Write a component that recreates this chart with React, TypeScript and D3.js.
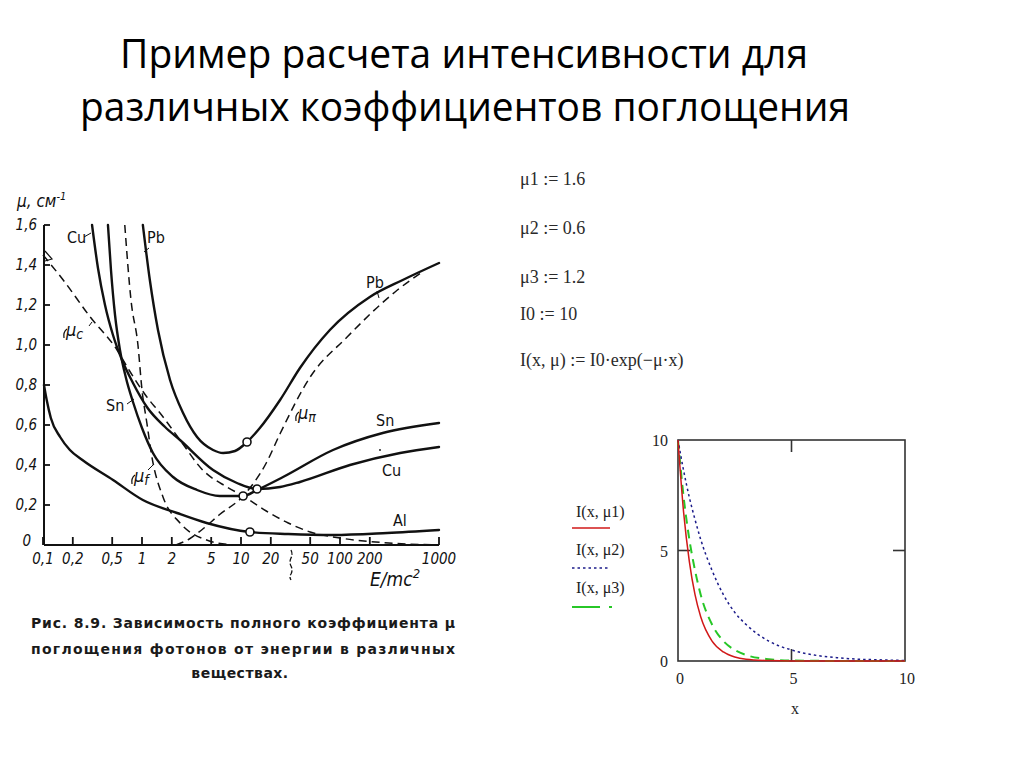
import React from 'react';
import * as d3 from 'd3';

// ---------- text content ----------
const titleLines = ['Пример расчета интенсивности для', 'различных коэффициентов поглощения'];
const captionLines = [
  'Рис. 8.9. Зависимость полного коэффициента μ',
  'поглощения фотонов от энергии в различных',
  'веществах.',
];
const mathcadLines = ['μ1 := 1.6', 'μ2 := 0.6', 'μ3 := 1.2', 'I0 := 10', 'I(x, μ) := I0·exp(−μ·x)'];

// ---------- left chart (scanned figure) ----------
const yTicksL = [0, 0.2, 0.4, 0.6, 0.8, 1.0, 1.2, 1.4, 1.6];
const yTickLabelsL = ['0', '0,2', '0,4', '0,6', '0,8', '1,0', '1,2', '1,4', '1,6'];
const xTicksL = [0.1, 0.2, 0.5, 1, 2, 5, 10, 20, 50, 100, 200, 1000];
const xTickLabelsL = ['0,1', '0,2', '0,5', '1', '2', '5', '10', '20', '50', '100', '200', '1000'];

const pbE = [1.02, 1.2, 1.45, 1.92, 2.6, 3.6, 5.22, 6.6, 8.7, 11.5, 15.5, 24.8, 39.4, 79, 200, 430, 1000];
const pbMu = [1.6, 1.325, 1.075, 0.825, 0.66, 0.54, 0.475, 0.46, 0.47, 0.515, 0.585, 0.725, 0.885, 1.075, 1.24, 1.325, 1.41];

const snE = [0.453, 0.486, 0.534, 0.599, 0.689, 0.811, 1.0, 1.29, 2.06, 3.6, 6.1, 10.5, 14.5, 26.6, 85, 270, 1000];
const snMu = [1.6, 1.375, 1.15, 0.975, 0.835, 0.715, 0.585, 0.46, 0.34, 0.275, 0.245, 0.245, 0.275, 0.34, 0.475, 0.56, 0.61];

const cuE = [0.313, 0.359, 0.423, 0.509, 0.628, 0.811, 1.12, 1.71, 2.42, 5.22, 9.1, 14.5, 24.8, 39.4, 126, 405, 1000];
const cuMu = [1.6, 1.385, 1.2, 1.05, 0.925, 0.81, 0.69, 0.59, 0.525, 0.375, 0.31, 0.28, 0.29, 0.315, 0.4, 0.46, 0.49];

const alE = [0.1023, 0.109, 0.12, 0.149, 0.187, 0.25, 0.51, 1.02, 2.26, 4.5, 12.3, 30, 85, 300, 1000];
const alMu = [0.8, 0.725, 0.635, 0.54, 0.475, 0.425, 0.325, 0.225, 0.16, 0.11, 0.065, 0.055, 0.05, 0.06, 0.075];

const muCE = [0.1, 0.16, 0.3, 0.56, 0.75, 1.12, 1.52, 2.42, 4.1, 7.2, 10.5, 18, 30, 50, 100, 270, 1000];
const muCMu = [1.45, 1.325, 1.14, 0.975, 0.87, 0.74, 0.66, 0.525, 0.375, 0.29, 0.245, 0.17, 0.11, 0.065, 0.035, 0.012, 0];

const muFE = [0.67, 0.774, 0.91, 1.0, 1.12, 1.26, 1.63, 2.42, 4.5, 8.3];
const muFMu = [1.6, 1.225, 1.0, 0.775, 0.61, 0.44, 0.24, 0.11, 0.025, 0];

const muPiE = [2.2, 3, 4, 6, 10.5, 18, 25, 50, 118, 380, 700];
const muPiMu = [0, 0.03, 0.075, 0.15, 0.245, 0.41, 0.56, 0.84, 1.04, 1.275, 1.37];

const circleE = [11.5, 10.5, 14.5, 12.3];
const circleMu = [0.515, 0.245, 0.28, 0.065];

// ---------- right chart (Mathcad plot) ----------
const xR = [0, 0.25, 0.5, 0.75, 1, 1.5, 2, 2.5, 3, 4, 5, 6, 7, 8, 9, 10];
const iMu1 = [10, 6.7, 4.5, 3.0, 2.0, 0.9, 0.41, 0.18, 0.08, 0.02, 0, 0, 0, 0, 0, 0];
const iMu2 = [10, 8.6, 7.4, 6.4, 5.5, 4.1, 3.0, 2.2, 1.65, 0.9, 0.5, 0.27, 0.15, 0.08, 0.05, 0.02];
const iMu3 = [10, 7.4, 5.5, 4.1, 3.0, 1.65, 0.9, 0.5, 0.27, 0.08, 0.02, 0.01, 0, 0, 0, 0];
const rTicks = [0, 5, 10];
const legendLabels = ['I(x, μ1)', 'I(x, μ2)', 'I(x, μ3)'];

const narrow = "'Liberation Sans Narrow', 'DejaVu Sans Condensed', 'DejaVu Sans', sans-serif";
const serif = "'Liberation Serif', 'DejaVu Serif', serif";
const ink = '#111';

export default function App() {
  const xL = d3.scaleLog().domain([0.1, 1000]).range([43, 439]);
  const yL = d3.scaleLinear().domain([0, 1.6]).range([545, 225]);
  const lineL = d3
    .line<[number, number]>()
    .x((d) => xL(d[0]))
    .y((d) => yL(d[1]))
    .curve(d3.curveMonotoneX);
  const zip = (a: number[], b: number[]) => a.map((v, i) => [v, b[i]] as [number, number]);

  const xRs = d3.scaleLinear().domain([0, 10]).range([678, 905]);
  const yRs = d3.scaleLinear().domain([0, 10]).range([661, 440]);
  const lineR = d3
    .line<[number, number]>()
    .x((d) => xRs(d[0]))
    .y((d) => yRs(d[1]))
    .curve(d3.curveMonotoneX);

  const solid = { fill: 'none', stroke: ink, strokeWidth: 2.4, strokeLinecap: 'round' as const };
  const dashed = { fill: 'none', stroke: ink, strokeWidth: 1.5, strokeDasharray: '8 5' };
  const lblStyle = { fontFamily: narrow, fontSize: 16, fill: ink };

  return (
    <svg
      width={1024}
      height={767}
      viewBox="0 0 1024 767"
      style={{ position: 'absolute', left: 0, top: 0, background: '#fff' }}
    >
      <rect x={0} y={0} width={1024} height={767} fill="#fff" />
      {/* Title */}
      <text x={120} y={68} fontFamily="'Open Sans', sans-serif" fontSize={40} textLength={688} lengthAdjust="spacingAndGlyphs" fill="#000">
        {titleLines[0]}
      </text>
      <text x={80} y={121} fontFamily="'Open Sans', sans-serif" fontSize={40} textLength={770} lengthAdjust="spacingAndGlyphs" fill="#000">
        {titleLines[1]}
      </text>

      {/* Left chart axes */}
      <g>
        <line x1={44} y1={yL(1.6)} x2={44} y2={yL(0)} stroke={ink} strokeWidth={2} />
        <line x1={44} y1={yL(0)} x2={xL(1000)} y2={yL(0)} stroke={ink} strokeWidth={2} />
        {yTicksL.map((t, i) => (
          <g key={'yt' + i}>
            <line x1={44} y1={yL(t)} x2={50} y2={yL(t)} stroke={ink} strokeWidth={1.8} />
            <text
              x={t === 0 ? 31 : 37}
              y={yL(t) + (t === 0 ? 1 : 5)}
              textAnchor="end"
              fontFamily={narrow}
              fontStyle="italic"
              fontSize={15}
              fill={ink}
            >
              {yTickLabelsL[i]}
            </text>
          </g>
        ))}
        {xTicksL.map((t, i) => (
          <g key={'xt' + i}>
            <line x1={xL(t)} y1={yL(0)} x2={xL(t)} y2={yL(0) - 8} stroke={ink} strokeWidth={1.8} />
            <text x={xL(t)} y={564} textAnchor="middle" fontFamily={narrow} fontStyle="italic" fontSize={15} fill={ink}>
              {xTickLabelsL[i]}
            </text>
          </g>
        ))}
        {/* axis break mark */}
        <path d="M291,550 q2,4 0,8 q-2,4 0,8 q2,4 0,8 q-2,3 0,6" fill="none" stroke={ink} strokeWidth={1.3} strokeDasharray="5 2" />
        {/* axis titles */}
        <text x={17} y={207} fontFamily={narrow} fontStyle="italic" fontSize={17} fill={ink}>
          μ, см<tspan dy={-7} fontSize={11}>-1</tspan>
        </text>
        <text x={370} y={586} fontFamily={narrow} fontStyle="italic" fontSize={19} fill={ink}>
          E/mc<tspan dy={-8} fontSize={13}>2</tspan>
        </text>
        {/* small triangle mark at start of μc */}
        <path d="M45,251 L52,259 L45,261" fill="none" stroke={ink} strokeWidth={1.2} />
      </g>

      {/* Left chart curves */}
      <g>
        <path d={lineL(zip(muCE, muCMu)) || ''} {...dashed} />
        <path d={lineL(zip(muFE, muFMu)) || ''} {...dashed} />
        <path d={lineL(zip(muPiE, muPiMu)) || ''} {...dashed} />
        <path d={lineL(zip(pbE, pbMu)) || ''} {...solid} />
        <path d={lineL(zip(snE, snMu)) || ''} {...solid} />
        <path d={lineL(zip(cuE, cuMu)) || ''} {...solid} />
        <path d={lineL(zip(alE, alMu)) || ''} {...solid} />
        {circleE.map((e, i) => (
          <circle key={'c' + i} cx={xL(e)} cy={yL(circleMu[i])} r={4} fill="#fff" stroke={ink} strokeWidth={1.6} />
        ))}
      </g>

      {/* Left chart labels */}
      <g>
        <text x={67} y={243} {...lblStyle}>Cu</text>
        <line x1={84} y1={237} x2={91} y2={233} stroke={ink} strokeWidth={1} />
        <text x={147} y={243} {...lblStyle}>Pb</text>
        <line x1={144} y1={252} x2={149} y2={248} stroke={ink} strokeWidth={1} />
        <text x={366} y={288} {...lblStyle}>Pb</text>
        <line x1={377} y1={291} x2={379} y2={298} stroke={ink} strokeWidth={1} />
        <text x={106} y={411} {...lblStyle}>Sn</text>
        <line x1={127} y1={404} x2={134} y2={399} stroke={ink} strokeWidth={1} />
        <text x={376} y={426} {...lblStyle}>Sn</text>
        <text x={382} y={476} {...lblStyle}>Cu</text>
        <circle cx={380} cy={450} r={0.9} fill={ink} />
        <text x={393} y={526} {...lblStyle}>Al</text>
        {/* μc */}
        <path d="M64,338 q-1,-6 3,-9" fill="none" stroke={ink} strokeWidth={1.2} />
        <text x={66} y={336} fontFamily={narrow} fontStyle="italic" fontSize={18} fill={ink}>
          μ<tspan dy={3} fontSize={14}>c</tspan>
        </text>
        <line x1={89} y1={326} x2={92} y2={322} stroke={ink} strokeWidth={1} />
        {/* μπ */}
        <path d="M296,421 q-1,-6 3,-9" fill="none" stroke={ink} strokeWidth={1.2} />
        <text x={298} y={419} fontFamily={narrow} fontStyle="italic" fontSize={18} fill={ink}>
          μ<tspan dy={3} fontSize={14}>π</tspan>
        </text>
        {/* μf */}
        <path d="M132,484 q-1,-6 3,-9" fill="none" stroke={ink} strokeWidth={1.2} />
        <text x={134} y={482} fontFamily={narrow} fontStyle="italic" fontSize={18} fill={ink}>
          μ<tspan dy={3} fontSize={14}>f</tspan>
        </text>
        <line x1={148} y1={470} x2={153} y2={465} stroke={ink} strokeWidth={1} />
      </g>

      {/* Caption */}
      <g fontFamily="'DejaVu Sans', sans-serif" fontWeight="bold" fontSize={14} fill="#1a1a1a">
        <text x={31} y={628} textLength={424} lengthAdjust="spacing">{captionLines[0]}</text>
        <text x={31} y={654} textLength={424} lengthAdjust="spacing">{captionLines[1]}</text>
        <text x={240} y={678} textAnchor="middle" letterSpacing={0.5}>{captionLines[2]}</text>
      </g>

      {/* Mathcad definitions */}
      <g fontFamily={serif} fontSize={18} fill="#2a2a2a">
        <text x={520} y={185}>{mathcadLines[0]}</text>
        <text x={520} y={234}>{mathcadLines[1]}</text>
        <text x={520} y={283}>{mathcadLines[2]}</text>
        <text x={520} y={320}>{mathcadLines[3]}</text>
        <text x={520} y={366}>{mathcadLines[4]}</text>
      </g>

      {/* Right chart */}
      <g>
        <rect x={678} y={440} width={227} height={221} fill="none" stroke="#333" strokeWidth={1.6} />
        <line x1={xRs(5)} y1={440} x2={xRs(5)} y2={452} stroke="#333" strokeWidth={1.6} />
        <line x1={xRs(5)} y1={661} x2={xRs(5)} y2={649} stroke="#333" strokeWidth={1.6} />
        <line x1={905} y1={yRs(5)} x2={893} y2={yRs(5)} stroke="#333" strokeWidth={1.6} />
        <line x1={678} y1={yRs(5)} x2={690} y2={yRs(5)} stroke="#333" strokeWidth={1.6} />
        {rTicks.map((t) => (
          <text key={'ry' + t} x={668} y={yRs(t) + 6} textAnchor="end" fontFamily={serif} fontSize={16} fill="#222">
            {t}
          </text>
        ))}
        {rTicks.map((t) => (
          <text key={'rx' + t} x={xRs(t) + 2} y={684} textAnchor="middle" fontFamily={serif} fontSize={16} fill="#222">
            {t}
          </text>
        ))}
        <text x={795} y={714} textAnchor="middle" fontFamily={serif} fontSize={16} fill="#222">x</text>

        <path d={lineR(zip(xR, iMu3)) || ''} fill="none" stroke="#27c727" strokeWidth={2} strokeDasharray="9 6" />
        <path d={lineR(zip(xR, iMu2)) || ''} fill="none" stroke="#1c1c8a" strokeWidth={1.5} strokeDasharray="2.5 3" />
        <path d={lineR(zip(xR, iMu1)) || ''} fill="none" stroke="#d11818" strokeWidth={1.5} />

        {/* legend */}
        <g fontFamily={serif} fontSize={16} fill="#222">
          <text x={576} y={517}>{legendLabels[0]}</text>
          <text x={576} y={555}>{legendLabels[1]}</text>
          <text x={576} y={593}>{legendLabels[2]}</text>
        </g>
        <line x1={572} y1={528} x2={610} y2={528} stroke="#d11818" strokeWidth={1.6} />
        <line x1={572} y1={568} x2={610} y2={568} stroke="#1c1c8a" strokeWidth={1.5} strokeDasharray="2.5 3" />
        <line x1={572} y1={607} x2={612} y2={607} stroke="#27c727" strokeWidth={2.2} strokeDasharray="28 9" />
      </g>
    </svg>
  );
}
